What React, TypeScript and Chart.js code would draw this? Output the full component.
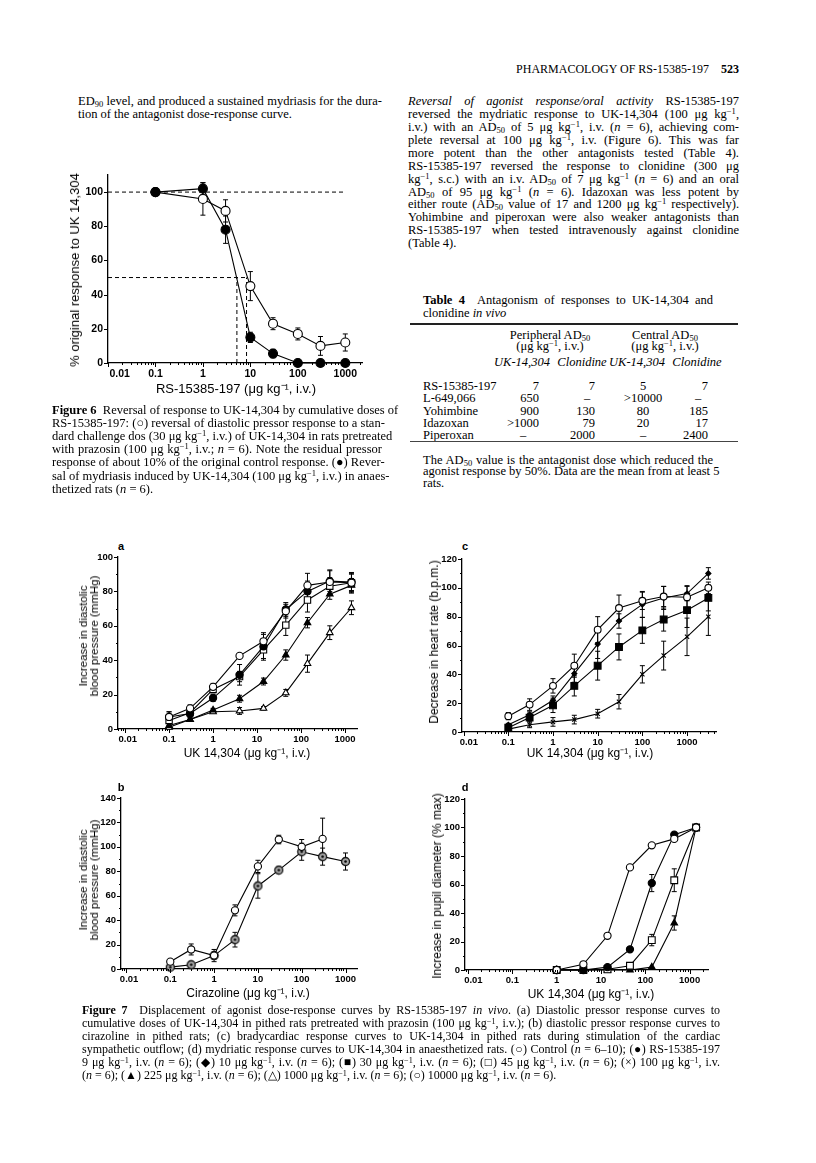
import React, { useEffect, useRef } from 'react';
import { Chart, registerables } from 'chart.js';
Chart.register(...registerables);

// ---------------- Figure 6 data ----------------
const fig6Doses = [0.1, 1, 3, 10, 30, 100, 300, 1000];
const fig6Mydriasis = [100, 102, 78, 15, 5.5, 0, 0, 0];
const fig6MydriasisErr = [0, 3.5, 8, 3, 2.5, 0, 0, 0];
const fig6Pressor = [100, 96, 89, 45, 23, 17, 10, 12];
const fig6PressorErr = [0, 9.5, 6.5, 8.5, 3.5, 3.5, 5.5, 5];
const fig6RefX = [0.01, 1000];
const fig6RefY = [100, 100];
const fig6HalfX = [0.01, 8.3];
const fig6HalfY = [50, 50];
const fig6Ad50Mydriasis = 5.2;
const fig6Ad50Pressor = 8.3;

// ---------------- Figure 7a data ----------------
const fig7aDoses = [0.1, 0.3, 1, 4, 14, 45, 140, 450, 1400];
const fig7aControl = [7, 12, 24.5, 42.5, 51, 68.5, 83.5, 85.5, 85];
const fig7aControlErr = [3, 2, 2, 0, 5, 4, 7, 7, 6];
const fig7aRs9 = [7, 9, 18, 31.5, 48, 69.5, 80, 86, 85.5];
const fig7aRs9Err = [3, 2, 2, 6, 7, 4, 6, 6, 5];
const fig7aRs45 = [5, 9.5, 23, 30.5, 46, 60.4, 75, 83, 85];
const fig7aRs45Err = [2, 2, 2, 3, 6, 6, 7, 5, 5];
const fig7aRs225 = [2, 5.5, 11, 17.6, 27.6, 43, 61.8, 78.4, 83.5];
const fig7aRs225Err = [2, 1, 1, 2, 2, 3, 3, 3, 4];
const fig7aRs1000 = [1, 5.5, 10, 10.5, 12, 21, 38, 56, 70.5];
const fig7aRs1000Err = [1, 1, 1, 2, 1, 2, 5, 4, 4];

// ---------------- Figure 7b data ----------------
const fig7bDosesControl = [0.1, 0.3, 1, 3, 10, 30, 100, 300];
const fig7bControl = [6, 16, 11, 48, 84, 106, 100, 106.5];
const fig7bControlErr = [0, 4.5, 5, 4.5, 5, 3.5, 6, 17];
const fig7bDosesRs = [0.1, 0.3, 1, 3, 10, 30, 100, 300, 1000];
const fig7bRs = [1.5, 3.5, 11, 24, 68, 81, 96, 92, 88];
const fig7bRsErr = [0, 0, 3, 6, 10, 0, 7, 7, 7];

// ---------------- Figure 7c data ----------------
const fig7cDoses = [0.1, 0.3, 1, 3, 10, 30, 100, 300, 1000, 3000];
const fig7cControl = [11, 19, 32, 46, 71, 86, 91, 94, 93.5, 100];
const fig7cControlErr = [2.5, 4, 5, 8, 9, 9, 6, 7, 8, 4];
const fig7cRs10 = [5, 12, 22, 40.5, 61, 77, 88.5, 93, 96, 110];
const fig7cRs10Err = [1, 2, 3, 6, 10, 5, 9, 8, 5, 4];
const fig7cRs30 = [3, 10, 18.5, 32, 46, 59, 70.5, 78, 84.5, 93];
const fig7cRs30Err = [1.5, 3, 5, 7, 10, 9, 9, 8, 12, 9];
const fig7cRs100 = [2, 5, 7, 8.6, 12.7, 21, 40, 53, 66, 80];
const fig7cRs100Err = [1, 2, 3, 3, 3, 5, 6, 10, 13, 13];

// ---------------- Figure 7d data ----------------
const fig7dDoses = [1, 4, 14, 45, 140, 450, 1400];
const fig7dControl = [0, 4, 24, 72, 87.5, 92, 100];
const fig7dControlErr = [0, 0, 0, 0, 0, 0, 0];
const fig7dRs9 = [0, 0, 2, 14.5, 61, 95, 100];
const fig7dRs9Err = [0, 0, 0, 1.5, 6, 0, 0];
const fig7dRs45 = [0, 0, 0.5, 3, 21, 63, 100];
const fig7dRs45Err = [0, 0, 0, 0, 4, 8, 0];
const fig7dRs225 = [0, 0, 0, 0, 2, 33, 100];
const fig7dRs225Err = [0, 0, 0, 0, 0, 5, 0];

// ---------------- Table 4 data ----------------
const tableDrugs = ['RS-15385-197', 'L-649,066', 'Yohimbine', 'Idazoxan', 'Piperoxan'];
const tablePeriphUK = ['7', '650', '900', '>1000', '–'];
const tablePeriphClon = ['7', '–', '130', '79', '2000'];
const tableCentralUK = ['5', '>10000', '80', '20', '–'];
const tableCentralClon = ['7', '–', '185', '17', '2400'];

// ---------------- helpers ----------------
const XH = 30, YW = 50, PT = 10, PR = 12;

function dotMarker() {
  const c = document.createElement('canvas');
  c.width = 11; c.height = 11;
  const g = c.getContext('2d')!;
  g.beginPath(); g.arc(5.5, 5.5, 4, 0, Math.PI * 2);
  g.fillStyle = '#a8a8a8'; g.fill();
  g.lineWidth = 1.3; g.strokeStyle = '#111'; g.stroke();
  g.beginPath(); g.arc(5.5, 5.5, 1.3, 0, Math.PI * 2); g.fillStyle = '#000'; g.fill();
  return c;
}

const errorBars = {
  id: 'errorBars',
  beforeDatasetsDraw(chart: any) {
    const { ctx, scales } = chart;
    ctx.save();
    ctx.strokeStyle = '#000';
    ctx.lineWidth = 1;
    chart.data.datasets.forEach((ds: any, i: number) => {
      if (!ds.errors) return;
      const meta = chart.getDatasetMeta(i);
      ds.data.forEach((d: any, j: number) => {
        const e = ds.errors[j];
        if (!e) return;
        const x = meta.data[j].x;
        const y1 = scales.y.getPixelForValue(d.y + e);
        const y2 = scales.y.getPixelForValue(Math.max(d.y - e, scales.y.min));
        ctx.beginPath();
        ctx.moveTo(x, y1); ctx.lineTo(x, y2);
        ctx.moveTo(x - 2.5, y1); ctx.lineTo(x + 2.5, y1);
        if (d.y - e >= scales.y.min) { ctx.moveTo(x - 2.5, y2); ctx.lineTo(x + 2.5, y2); }
        ctx.stroke();
      });
    });
    ctx.restore();
  },
};

const axisTicks = {
  id: 'axisTicks',
  afterDraw(chart: any, _a: any, opts: any) {
    const { ctx, chartArea, scales } = chart;
    const xs = scales.x, ys = scales.y;
    ctx.save();
    ctx.strokeStyle = '#000';
    ctx.lineWidth = 1;
    ctx.beginPath();
    const lo = Math.floor(Math.log10(xs.min)), hi = Math.ceil(Math.log10(xs.max));
    for (let e = lo; e <= hi; e++) {
      for (let k = 1; k <= 9; k++) {
        const v = k * Math.pow(10, e);
        if (v < xs.min * 0.999 || v > xs.max * 1.001) continue;
        const px = Math.round(xs.getPixelForValue(v)) + 0.5;
        const len = k === 1 ? 4 : 2;
        ctx.moveTo(px, chartArea.bottom);
        ctx.lineTo(px, chartArea.bottom + len);
      }
    }
    const step = opts.yStep, minor = opts.yMinor || step;
    for (let v = ys.min; v <= ys.max + 1e-6; v += minor) {
      const isMajor = Math.abs(v / step - Math.round(v / step)) < 1e-6;
      const py = Math.round(ys.getPixelForValue(v)) + 0.5;
      ctx.moveTo(chartArea.left, py);
      ctx.lineTo(chartArea.left - (isMajor ? 4 : 2), py);
    }
    ctx.stroke();
    ctx.restore();
  },
};

type Ser = { x: number[]; y: number[]; err?: number[]; style?: any; fill?: string; r?: number; dash?: number[]; noPoints?: boolean };
type Panel = {
  l: number; t: number; r: number; b: number;
  xMin: number; xMax: number; yMax: number; yStep: number; yMinor?: number;
  fs: number; firstPad: number; series: Ser[];
};

function geom(p: Panel) {
  return { left: p.l - YW, top: p.t - PT, width: p.r - p.l + YW + PR, height: p.b - p.t + PT + XH };
}

function isDecade(v: number) {
  const l = Math.log10(v);
  return Math.abs(l - Math.round(l)) < 1e-6;
}

function buildConfig(p: Panel): any {
  const font = { family: '"Liberation Sans", Arial, sans-serif', weight: 'bold', size: p.fs };
  const datasets = p.series.map((s) => {
    let pointStyle: any = s.style || 'circle';
    let bg = '#fff';
    if (s.fill === 'filled') bg = '#000';
    if (s.fill === 'dot') pointStyle = dotMarker();
    return {
      data: s.x.map((x, i) => ({ x, y: s.y[i] })),
      errors: s.err,
      showLine: true,
      borderColor: '#000',
      borderWidth: s.dash ? 1 : 1.1,
      borderDash: s.dash || [],
      pointStyle,
      pointRadius: s.noPoints ? 0 : s.r || 4,
      pointBackgroundColor: bg,
      pointBorderColor: '#000',
      pointBorderWidth: 1.1,
      clip: false,
      tension: 0,
    };
  });
  return {
    type: 'scatter',
    data: { datasets },
    plugins: [errorBars, axisTicks],
    options: {
      animation: false,
      responsive: false,
      maintainAspectRatio: false,
      events: [],
      layout: { padding: { top: PT, right: PR, left: 0, bottom: 0 } },
      plugins: {
        legend: { display: false },
        tooltip: { enabled: false },
        axisTicks: { yStep: p.yStep, yMinor: p.yMinor },
      },
      scales: {
        x: {
          type: 'logarithmic',
          min: p.xMin,
          max: p.xMax,
          afterFit: (s: any) => { s.height = XH; },
          grid: { display: true, drawOnChartArea: false, drawTicks: true, tickLength: 4, color: 'rgba(0,0,0,0)' },
          border: { display: true, color: '#000', width: 1.3 },
          ticks: {
            autoSkip: false, maxRotation: 0, minRotation: 0, padding: 1, color: '#000', font,
            callback: (v: any) => {
              const n = Number(v);
              if (!isDecade(n) || n < p.xMin * 0.999) return '';
              if (Math.abs(n - 0.01) < 1e-9) return '\u2007'.repeat(p.firstPad) + '0.01';
              return n >= 1 ? String(Math.round(n)) : String(Number(n.toPrecision(1)));
            },
          },
        },
        y: {
          type: 'linear',
          min: 0,
          max: p.yMax,
          afterFit: (s: any) => { s.width = YW; },
          grid: { display: true, drawOnChartArea: false, drawTicks: true, tickLength: 4, color: 'rgba(0,0,0,0)' },
          border: { display: true, color: '#000', width: 1.3 },
          ticks: {
            stepSize: p.yStep, padding: 1, color: '#000', font,
            callback: (v: any) => (Number(v) % p.yStep === 0 ? String(v) : ''),
          },
        },
      },
    },
  };
}

function Plot({ p }: { p: Panel }) {
  const ref = useRef<HTMLCanvasElement>(null);
  useEffect(() => {
    const chart = new Chart(ref.current as HTMLCanvasElement, buildConfig(p));
    return () => chart.destroy();
  }, []);
  const g = geom(p);
  return (
    <canvas
      ref={ref}
      width={g.width}
      height={g.height}
      style={{ position: 'absolute', left: g.left, top: g.top, width: g.width, height: g.height }}
    />
  );
}

// ---------------- panels ----------------
const fig6: Panel = {
  l: 108, t: 175, r: 362, b: 363, xMin: 0.01, xMax: 2250, yMax: 110, yStep: 20, fs: 10.5, firstPad: 4,
  series: [
    { x: fig6Doses, y: fig6Mydriasis, err: fig6MydriasisErr, fill: 'filled', r: 4.5 },
    { x: fig6Doses, y: fig6Pressor, err: fig6PressorErr, fill: 'open', r: 4.5 },
    { x: fig6RefX, y: fig6RefY, dash: [4, 3], noPoints: true },
    { x: fig6HalfX, y: fig6HalfY, dash: [4, 3], noPoints: true },
    { x: [fig6Ad50Mydriasis, fig6Ad50Mydriasis], y: [0, 50], dash: [4, 3], noPoints: true },
    { x: [fig6Ad50Pressor, fig6Ad50Pressor], y: [0, 50], dash: [4, 3], noPoints: true },
  ],
};

const fig7a: Panel = {
  l: 118, t: 557, r: 357, b: 729, xMin: 0.0069, xMax: 1870, yMax: 100, yStep: 20, yMinor: 10, fs: 9.5, firstPad: 1,
  series: [
    { x: fig7aDoses, y: fig7aControl, err: fig7aControlErr, fill: 'open', r: 3.6 },
    { x: fig7aDoses, y: fig7aRs9, err: fig7aRs9Err, fill: 'filled', r: 3.6 },
    { x: fig7aDoses, y: fig7aRs45, err: fig7aRs45Err, fill: 'open', style: 'rect', r: 4.5 },
    { x: fig7aDoses, y: fig7aRs225, err: fig7aRs225Err, fill: 'filled', style: 'triangle', r: 3.8 },
    { x: fig7aDoses, y: fig7aRs1000, err: fig7aRs1000Err, fill: 'open', style: 'triangle', r: 3.8 },
  ],
};

const fig7b: Panel = {
  l: 121, t: 798, r: 357, b: 969, xMin: 0.0075, xMax: 1830, yMax: 140, yStep: 20, yMinor: 10, fs: 9.5, firstPad: 1,
  series: [
    { x: fig7bDosesControl, y: fig7bControl, err: fig7bControlErr, fill: 'open', r: 3.6 },
    { x: fig7bDosesRs, y: fig7bRs, err: fig7bRsErr, fill: 'dot', r: 4 },
  ],
};

const fig7c: Panel = {
  l: 462, t: 559, r: 716, b: 732, xMin: 0.0092, xMax: 4450, yMax: 120, yStep: 20, yMinor: 10, fs: 9.5, firstPad: 2,
  series: [
    { x: fig7cDoses, y: fig7cControl, err: fig7cControlErr, fill: 'open', r: 3.4 },
    { x: fig7cDoses, y: fig7cRs10, err: fig7cRs10Err, fill: 'filled', style: 'rectRot', r: 2.6 },
    { x: fig7cDoses, y: fig7cRs30, err: fig7cRs30Err, fill: 'filled', style: 'rect', r: 4.8 },
    { x: fig7cDoses, y: fig7cRs100, err: fig7cRs100Err, fill: 'open', style: 'crossRot', r: 3 },
  ],
};

const fig7d: Panel = {
  l: 465, t: 799, r: 708, b: 970, xMin: 0.0085, xMax: 2600, yMax: 120, yStep: 20, yMinor: 10, fs: 9.5, firstPad: 2,
  series: [
    { x: fig7dDoses, y: fig7dControl, err: fig7dControlErr, fill: 'open', r: 3.6 },
    { x: fig7dDoses, y: fig7dRs9, err: fig7dRs9Err, fill: 'filled', r: 3.6 },
    { x: fig7dDoses, y: fig7dRs45, err: fig7dRs45Err, fill: 'open', style: 'rect', r: 4.8 },
    { x: fig7dDoses, y: fig7dRs225, err: fig7dRs225Err, fill: 'filled', style: 'triangle', r: 3.8 },
  ],
};

// ---------------- text helpers ----------------
const SERIF = '"Liberation Serif", "Times New Roman", serif';
const SANS = '"Liberation Sans", Arial, sans-serif';
const Sup = ({ children }: any) => <sup style={{ fontSize: '0.68em', verticalAlign: '0.42em', lineHeight: 0 }}>{children}</sup>;
const Sub = ({ children }: any) => <sub style={{ fontSize: '0.68em', verticalAlign: '-0.2em', lineHeight: 0 }}>{children}</sub>;
const I = ({ children }: any) => <i>{children}</i>;

function TL({ x, y, w, fs = 12.5, j = true, align, children, family = SERIF }: any) {
  const lh = Math.round(fs * 1.2);
  const a = align || (j ? 'justify' : 'left');
  return (
    <div
      style={{
        position: 'absolute', left: x, top: y - lh / 2, width: w, fontSize: fs, lineHeight: `${lh}px`,
        fontFamily: family, textAlign: a as any, textAlignLast: a as any, whiteSpace: 'nowrap', color: '#000',
      }}
    >
      {children}
    </div>
  );
}

function VT({ cx, cy, fs = 12, lh = 12, children }: any) {
  return (
    <div
      style={{
        position: 'absolute', left: cx, top: cy, transform: 'translate(-50%, -50%) rotate(-90deg)',
        fontFamily: SANS, fontSize: fs, lineHeight: `${lh}px`, whiteSpace: 'nowrap',
        textAlign: 'center', color: '#000',
      }}
    >
      {children}
    </div>
  );
}

function HT({ cx, cy, fs = 12, children, bold }: any) {
  return (
    <div
      style={{
        position: 'absolute', left: cx, top: cy, transform: 'translate(-50%, -50%)',
        fontFamily: SANS, fontSize: fs, fontWeight: bold ? 'bold' : 'normal', whiteSpace: 'nowrap', color: '#000',
      }}
    >
      {children}
    </div>
  );
}

// positioned cell: right-aligned at `right`, or dash centered at `dash`
function Cell({ v, y, right, dash }: any) {
  if (v === '–') return <TL x={dash - 10} y={y} w={20} fs={12.5} align="center">{v}</TL>;
  return <TL x={right - 60} y={y} w={60} fs={12.5} align="right">{v}</TL>;
}

const mu = 'μg kg';

export default function App() {
  const R0 = 101.7, RS = 12.9;
  const rx = 408, rw = 331;
  const rLines: any[] = [
    <><I>Reversal of agonist response/oral activity</I> RS-15385-197</>,
    <>reversed the mydriatic response to UK-14,304 (100 {mu}<Sup>−1</Sup>,</>,
    <>i.v.) with an AD<Sub>50</Sub> of 5 {mu}<Sup>−1</Sup>, i.v. (<I>n</I> = 6), achieving com-</>,
    <>plete reversal at 100 {mu}<Sup>−1</Sup>, i.v. (Figure 6). This was far</>,
    <>more potent than the other antagonists tested (Table 4).</>,
    <>RS-15385-197 reversed the response to clonidine (300 μg</>,
    <>kg<Sup>−1</Sup>, s.c.) with an i.v. AD<Sub>50</Sub> of 7 {mu}<Sup>−1</Sup> (<I>n</I> = 6) and an oral</>,
    <>AD<Sub>50</Sub> of 95 {mu}<Sup>−1</Sup> (<I>n</I> = 6). Idazoxan was less potent by</>,
    <>either route (AD<Sub>50</Sub> value of 17 and 1200 {mu}<Sup>−1</Sup> respectively).</>,
    <>Yohimbine and piperoxan were also weaker antagonists than</>,
    <>RS-15385-197 when tested intravenously against clonidine</>,
    <>(Table 4).</>,
  ];

  const c6: any[] = [
    <><b>Figure 6</b>&nbsp; Reversal of response to UK-14,304 by cumulative doses of</>,
    <>RS-15385-197: (○) reversal of diastolic pressor response to a stan-</>,
    <>dard challenge dos (30 {mu}<Sup>−1</Sup>, i.v.) of UK-14,304 in rats pretreated</>,
    <>with prazosin (100 {mu}<Sup>−1</Sup>, i.v.; <I>n</I> = 6). Note the residual pressor</>,
    <>response of about 10% of the original control response. (●) Rever-</>,
    <>sal of mydriasis induced by UK-14,304 (100 {mu}<Sup>−1</Sup>, i.v.) in anaes-</>,
    <>thetized rats (<I>n</I> = 6).</>,
  ];

  const c7: any[] = [
    <><b>Figure 7</b>&nbsp; Displacement of agonist dose-response curves by RS-15385-197 <I>in vivo</I>. (a) Diastolic pressor response curves to</>,
    <>cumulative doses of UK-14,304 in pithed rats pretreated with prazosin (100 {mu}<Sup>−1</Sup>, i.v.); (b) diastolic pressor response curves to</>,
    <>cirazoline in pithed rats; (c) bradycardiac response curves to UK-14,304 in pithed rats during stimulation of the cardiac</>,
    <>sympathetic outflow; (d) mydriatic response curves to UK-14,304 in anaesthetized rats. (○) Control (<I>n</I> = 6–10); (●) RS-15385-197</>,
    <>9 {mu}<Sup>−1</Sup>, i.v. (<I>n</I> = 6); (◆) 10 {mu}<Sup>−1</Sup>, i.v. (<I>n</I> = 6); (■) 30 {mu}<Sup>−1</Sup>, i.v. (<I>n</I> = 6); (□) 45 {mu}<Sup>−1</Sup>, i.v. (<I>n</I> = 6); (×) 100 {mu}<Sup>−1</Sup>, i.v.</>,
    <>(<I>n</I> = 6); (▲) 225 {mu}<Sup>−1</Sup>, i.v. (<I>n</I> = 6); (△) 1000 {mu}<Sup>−1</Sup>, i.v. (<I>n</I> = 6); (○) 10000 {mu}<Sup>−1</Sup>, i.v. (<I>n</I> = 6).</>,
  ];

  const tY = [386, 398.5, 411, 423, 435];

  return (
    <div style={{ position: 'absolute', left: 0, top: 0, width: 816, height: 1163, background: '#fff', overflow: 'hidden' }}>
      {/* header */}
      <TL x={440} y={68.5} w={299} fs={12} j={false} align="right">
        PHARMACOLOGY OF RS-15385-197&nbsp;&nbsp;&nbsp;&nbsp;<b>523</b>
      </TL>

      {/* left column text */}
      <TL x={78} y={101.7} w={304}>ED<Sub>90</Sub> level, and produced a sustained mydriasis for the dura-</TL>
      <TL x={78} y={114.6} w={304} j={false}>tion of the antagonist dose-response curve.</TL>

      {/* right column text */}
      {rLines.map((l, i) => (
        <TL key={i} x={rx} y={R0 + RS * i} w={rw} j={i !== rLines.length - 1}>{l}</TL>
      ))}

      {/* Figure 6 */}
      <Plot p={fig6} />
      <VT cx={75} cy={270} fs={13}>% original response to UK 14,304</VT>
      <HT cx={236} cy={388} fs={13}>RS-15385-197 (μg kg⁻¹, i.v.)</HT>
      {c6.map((l, i) => (
        <TL key={i} x={52} y={410 + 13.2 * i} w={330} fs={12.5} j={i !== c6.length - 1}>{l}</TL>
      ))}

      {/* Table 4 */}
      <TL x={423} y={300} w={290} fs={12.5}><b>Table 4</b>&nbsp; Antagonism of responses to UK-14,304 and</TL>
      <TL x={423} y={313} w={290} fs={12.5} j={false}>clonidine <I>in vivo</I></TL>
      <div style={{ position: 'absolute', left: 410, top: 323, width: 328, height: 1.5, background: '#222' }} />
      <TL x={490} y={335} w={120} fs={12.5} align="center">Peripheral AD<Sub>50</Sub></TL>
      <TL x={605} y={335} w={120} fs={12.5} align="center">Central AD<Sub>50</Sub></TL>
      <TL x={490} y={346.5} w={120} fs={12.5} align="center">(μg kg<Sup>−1</Sup>, i.v.)</TL>
      <TL x={605} y={346.5} w={120} fs={12.5} align="center">(μg kg<Sup>−1</Sup>, i.v.)</TL>
      <TL x={482} y={362} w={80} fs={12.5} align="center"><I>UK-14,304</I></TL>
      <TL x={542} y={362} w={80} fs={12.5} align="center"><I>Clonidine</I></TL>
      <TL x={597} y={362} w={80} fs={12.5} align="center"><I>UK-14,304</I></TL>
      <TL x={657} y={362} w={80} fs={12.5} align="center"><I>Clonidine</I></TL>
      {tableDrugs.map((d, i) => (
        <React.Fragment key={i}>
          <TL x={423} y={tY[i]} w={100} fs={12.5} j={false}>{d}</TL>
          <Cell v={tablePeriphUK[i]} y={tY[i]} right={539} dash={523} />
          <Cell v={tablePeriphClon[i]} y={tY[i]} right={595} dash={587} />
          <TL x={613} y={tY[i]} w={60} fs={12.5} align="center">{tableCentralUK[i]}</TL>
          <Cell v={tableCentralClon[i]} y={tY[i]} right={708} dash={698} />
        </React.Fragment>
      ))}
      <div style={{ position: 'absolute', left: 410, top: 441, width: 328, height: 1, background: '#444' }} />
      <TL x={423} y={460} w={290} fs={12.5}>The AD<Sub>50</Sub> value is the antagonist dose which reduced the</TL>
      <TL x={423} y={471.5} w={290} fs={12.5}>agonist response by 50%. Data are the mean from at least 5</TL>
      <TL x={423} y={483} w={290} fs={12.5} j={false}>rats.</TL>

      {/* Figure 7 panels */}
      <HT cx={121} cy={546} fs={11} bold>a</HT>
      <Plot p={fig7a} />
      <VT cx={89} cy={636} fs={11.5} lh={11}>Increase in diastolic<br />blood pressure (mmHg)</VT>
      <HT cx={247} cy={752} fs={12}>UK 14,304 (μg kg⁻¹, i.v.)</HT>

      <HT cx={465} cy={546} fs={11} bold>c</HT>
      <Plot p={fig7c} />
      <VT cx={434} cy={642} fs={12}>Decrease in heart rate (b.p.m.)</VT>
      <HT cx={590} cy={752} fs={12}>UK 14,304 (μg kg⁻¹, i.v.)</HT>

      <HT cx={121} cy={787} fs={11} bold>b</HT>
      <Plot p={fig7b} />
      <VT cx={89} cy={880} fs={11.5} lh={11}>Increase in diastolic<br />blood pressure (mmHg)</VT>
      <HT cx={248} cy={992} fs={12}>Cirazoline (μg kg⁻¹, i.v.)</HT>

      <HT cx={465} cy={787} fs={11} bold>d</HT>
      <Plot p={fig7d} />
      <VT cx={437} cy={886} fs={12}>Increase in pupil diameter (% max)</VT>
      <HT cx={591} cy={993} fs={12}>UK 14,304 (μg kg⁻¹, i.v.)</HT>

      {c7.map((l, i) => (
        <TL key={i} x={82} y={1010 + 13 * i} w={638} fs={12} j={i !== c7.length - 1}>{l}</TL>
      ))}
    </div>
  );
}
